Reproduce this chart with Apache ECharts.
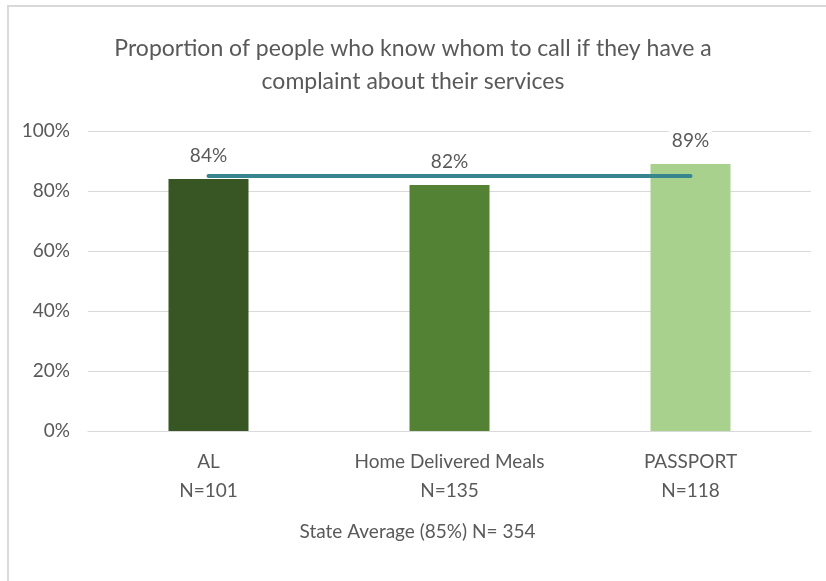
<!DOCTYPE html>
<html>
<head>
<meta charset="utf-8">
<script src="https://cdn.jsdelivr.net/npm/echarts@6/dist/echarts.min.js"></script>
<style>
  html, body { margin: 0; padding: 0; background: #fff; }
  #chart { width: 826px; height: 581px; }
</style>
</head>
<body>
<div id="chart"></div>
<script>
// Programs surveyed and their sample sizes
const categories = ['AL', 'Home Delivered Meals', 'PASSPORT'];
const sampleSizes = [101, 135, 118];
// Share of respondents (%) who know whom to call with a complaint
const values = [84, 82, 89];
const barColors = ['#375623', '#548235', '#a9d18e'];
// Statewide reference
const stateAverage = 85;
const stateN = 354;
const yTicks = [0, 20, 40, 60, 80, 100];

const FONT = 'Lato';
const TEXT = '#595959';

const chart = echarts.init(document.getElementById('chart'));
chart.setOption({
  animation: false,
  textStyle: { fontFamily: FONT },
  title: {
    text: 'Proportion of people who know whom to call if they have a\ncomplaint about their services',
    left: 'center',
    top: 27,
    textStyle: { fontFamily: FONT, fontSize: 23, fontWeight: 'normal', color: TEXT, lineHeight: 33 }
  },
  graphic: [
    { type: 'line', shape: { x1: 7, y1: 6, x2: 826, y2: 6 }, style: { stroke: '#d9d9d9', lineWidth: 2 } },
    { type: 'line', shape: { x1: 8, y1: 5, x2: 8, y2: 581 }, style: { stroke: '#d9d9d9', lineWidth: 2 } }
  ],
  grid: { left: 88, right: 15, top: 131, bottom: 150 },
  xAxis: {
    type: 'category',
    data: categories.map((c, i) => c + '\nN=' + sampleSizes[i]),
    axisTick: { show: false },
    axisLine: { lineStyle: { color: '#d9d9d9', width: 1 } },
    axisLabel: { color: TEXT, fontSize: 19, lineHeight: 29, margin: 16, fontFamily: FONT, interval: 0, hideOverlap: false },
    name: 'State Average (' + stateAverage + '%) N= ' + stateN,
    nameLocation: 'middle',
    nameGap: 91,
    nameTextStyle: { color: TEXT, fontSize: 19, fontFamily: FONT, padding: [0, 64, 0, 0] }
  },
  yAxis: {
    type: 'value',
    min: yTicks[0],
    max: yTicks[yTicks.length - 1],
    interval: 20,
    axisLabel: { formatter: '{value}%', color: TEXT, fontSize: 19, margin: 18, fontFamily: FONT },
    splitLine: { lineStyle: { color: '#d9d9d9', width: 1 } },
    axisLine: { show: false },
    axisTick: { show: false }
  },
  series: [
    {
      type: 'bar',
      barWidth: 80,
      data: values.map((v, i) => ({ value: v, itemStyle: { color: barColors[i] } })),
      label: {
        show: true,
        position: 'top',
        distance: 14,
        formatter: '{c}%',
        color: TEXT,
        fontSize: 19,
        fontFamily: FONT,
        backgroundColor: '#fff',
        padding: [0, 3]
      },
      z: 2
    },
    {
      type: 'line',
      data: categories.map(() => stateAverage),
      symbol: 'none',
      lineStyle: { color: '#37868f', width: 4, cap: 'round' },
      z: 3
    }
  ]
});
</script>
</body>
</html>
